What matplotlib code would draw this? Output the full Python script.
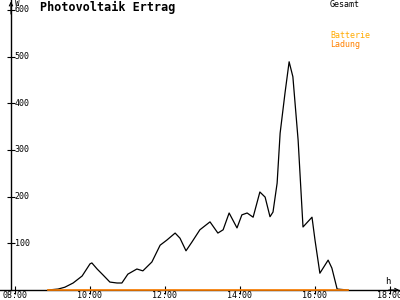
import matplotlib
matplotlib.use('Agg')
import matplotlib.pyplot as plt

# Stunden (dezimal) und Leistung in W
gesamt_h = [8.88, 9.15, 9.33, 9.55, 9.79, 10.0, 10.05, 10.19, 10.35, 10.53, 10.72,
            10.85, 11.01, 11.25, 11.41, 11.65, 11.87, 12.05, 12.27, 12.40, 12.56,
            12.72, 12.93, 13.20, 13.41, 13.55, 13.71, 13.92, 14.05, 14.19, 14.35,
            14.53, 14.67, 14.80, 14.88, 14.99, 15.07, 15.20, 15.31, 15.41, 15.55,
            15.68, 15.92, 16.00, 16.13, 16.35, 16.45, 16.59, 16.88]
gesamt_w = [0, 2, 6, 15, 30, 56, 58, 45, 32, 17, 15,
            15, 34, 45, 41, 60, 96, 107, 122, 111, 84,
            103, 129, 146, 122, 129, 165, 133, 161, 165, 156,
            210, 199, 157, 167, 229, 336, 422, 489, 457, 321,
            135, 156, 107, 36, 64, 47, 2, 0]

ladung_h = [8.88, 16.88]
ladung_w = [0, 0]

x_ticks = [8, 10, 12, 14, 16, 18]
x_labels = ['08:00', '10:00', '12:00', '14:00', '16:00', '18:00']
y_ticks = [100, 200, 300, 400, 500, 600]

mono = 'DejaVu Sans Mono'
orange = '#ff8000'

fig = plt.figure(figsize=(4, 3), dpi=100)
ax = fig.add_axes([0, 0, 1, 1])
x0, x1 = 7.6, 18.2667
y0, y1 = -21.43, 621.4
ax.set_xlim(x0, x1)
ax.set_ylim(y0, y1)
yaxis_x = 7.893

# Achsen
for s in ['top', 'right']:
    ax.spines[s].set_visible(False)
ax.spines['left'].set_position(('data', yaxis_x))
ax.spines['bottom'].set_position(('data', 0))
ax.spines['left'].set_bounds(0, y1)
ax.spines['left'].set_linewidth(1)
ax.spines['bottom'].set_linewidth(1)
ax.set_xticks(x_ticks)
ax.set_yticks(y_ticks)
ax.tick_params(direction='inout', length=6, width=0.8, labelbottom=False, labelleft=False)

ax.annotate('', xy=(x1 - 0.02, 0), xytext=(x1 - 0.3, 0),
            arrowprops=dict(arrowstyle='->', lw=0.8, color='black',
                            mutation_scale=6, shrinkA=0, shrinkB=0))
ax.annotate('', xy=(yaxis_x, y1 - 3), xytext=(yaxis_x, y1 - 30),
            arrowprops=dict(arrowstyle='->', lw=0.8, color='black',
                            mutation_scale=6, shrinkA=0, shrinkB=0))

# Daten
ax.plot(gesamt_h, gesamt_w, color='black', lw=0.9, zorder=3)
ax.plot(ladung_h, ladung_w, color=orange, lw=1.2, zorder=4)

# Beschriftung
for t, lab in zip(x_ticks, x_labels):
    ax.text(t, -11, lab, fontsize=6, family=mono, ha='center', va='center')
for v in y_ticks:
    ax.text(yaxis_x + 0.1, v, str(v), fontsize=6, family=mono, ha='left', va='center')
ax.text(yaxis_x + 0.1, 614, 'W', fontsize=5.5, family=mono, ha='left', va='center')
ax.text(17.93, 18, 'h', fontsize=6.5, family=mono, ha='center', va='center')

fig.text(0.1, 0.975, 'Photovoltaik Ertrag', fontsize=8.5, family=mono,
         fontweight='bold', ha='left', va='center')
fig.text(0.825, 0.985, 'Gesamt', fontsize=6, family=mono, ha='left', va='center')
fig.text(0.825, 0.88, 'Batterie', fontsize=6, family=mono, color='#ffaa00',
         ha='left', va='center')
fig.text(0.825, 0.852, 'Ladung', fontsize=6, family=mono, color=orange,
         ha='left', va='center')

fig.savefig('out.png', dpi=100)
